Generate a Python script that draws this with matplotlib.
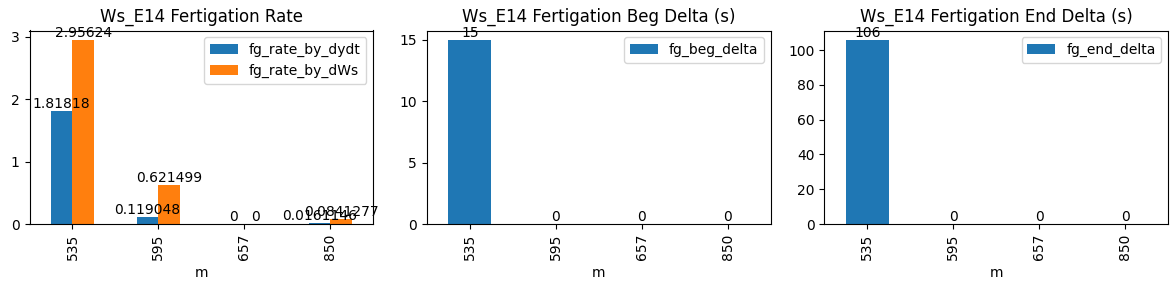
import matplotlib
matplotlib.use("Agg")
import matplotlib.pyplot as plt
import pandas as pd

m = [535, 595, 657, 850]
fg_rate_by_dydt = [1.81818, 0.119048, 0.0, 0.0161146]
fg_rate_by_dWs = [2.95624, 0.621499, 0.0, 0.0841277]
fg_beg_delta = [15, 0, 0, 0]
fg_end_delta = [106, 0, 0, 0]

df = pd.DataFrame({
    "fg_rate_by_dydt": fg_rate_by_dydt,
    "fg_rate_by_dWs": fg_rate_by_dWs,
    "fg_beg_delta": fg_beg_delta,
    "fg_end_delta": fg_end_delta,
}, index=pd.Index(m, name="m"))

fig, axes = plt.subplots(1, 3, figsize=(11.76, 2.9), dpi=100)

df[["fg_rate_by_dydt", "fg_rate_by_dWs"]].plot.bar(ax=axes[0], title="Ws_E14 Fertigation Rate")
df[["fg_beg_delta"]].plot.bar(ax=axes[1], title="Ws_E14 Fertigation Beg Delta (s)")
df[["fg_end_delta"]].plot.bar(ax=axes[2], title="Ws_E14 Fertigation End Delta (s)")

for ax in axes:
    for c in ax.containers:
        ax.bar_label(c)

fig.subplots_adjust(left=29.5 / 1176, right=1168 / 1176, top=1 - 30.5 / 290,
                    bottom=1 - 224 / 290, wspace=0.156)
fig.savefig("out.png")
